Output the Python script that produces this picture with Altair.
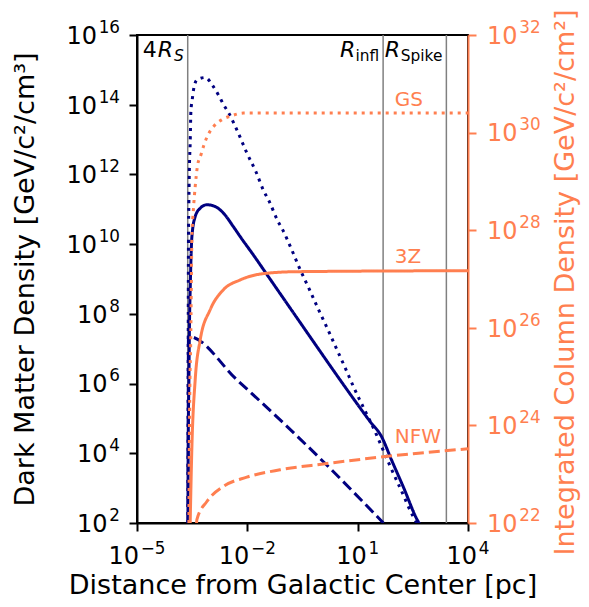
import altair as alt
import pandas as pd

NAVY = "#000080"
CORAL = "#ff7f50"
GREY = "#808080"
FONT = "DejaVu Sans"

# ---------------- data (log10 values) ----------------
# vertical reference lines (pc)
vline_logr = [-3.621, 1.692, 3.412]

# dark matter density [GeV/c^2/cm^3]  (left axis)
gs_rho_logr = [-3.615, -3.600, -3.589, -3.573, -3.554, -3.535, -3.499, -3.464, -3.372, -3.147,
               -2.938, -2.786, -2.650, -2.495, -2.243, -2.015, -1.763, -1.564, -1.402, -1.174,
               -1.038, -0.794, -0.568, -0.316, -0.072, 0.172, 0.408, 0.653, 0.878, 1.513,
               1.828, 2.191, 2.506, 2.606]
gs_rho_logv = [2.0, 10.22, 11.27, 12.32, 12.90, 13.80, 14.14, 14.42, 14.71, 14.78,
               14.54, 14.28, 14.01, 13.74, 13.18, 12.62, 12.07, 11.55, 11.22, 10.67,
               10.41, 9.84, 9.28, 8.71, 8.14, 7.59, 7.04, 6.47, 5.93, 4.53,
               3.76, 2.92, 2.19, 2.0]

z3_rho_logr = [-3.615, -3.608, -3.589, -3.573, -3.554, -3.507, -3.418, -3.282, -3.100, -2.875,
               -2.650, -2.379, -2.197, -1.836, -1.429, -1.022, -0.615, -0.208, 0.200, 0.680,
               1.331, 1.648, 1.920, 2.235, 2.642, 2.70]
z3_rho_logv = [2.0, 4.20, 6.11, 7.73, 8.69, 10.22, 10.79, 11.03, 11.13, 11.08,
               10.89, 10.50, 10.22, 9.69, 9.07, 8.45, 7.83, 7.21, 6.59, 5.87,
               4.92, 4.48, 3.81, 3.05, 2.05, 1.95]

nfw_rho_logr = [-3.612, -3.600, -2.286, 0.200, 1.700]
nfw_rho_logv = [2.0, 7.35, 6.11, 3.62, 2.0]

# integrated column density [GeV/c^2/cm^2]  (right axis)
gs_col_logr = [-3.589, -3.567, -3.540, -3.507, -3.464, -3.418, -3.355, -3.263, -3.174, -3.057,
               -2.902, -2.677, -2.406, -2.107, 4.0]
gs_col_logv = [22.0, 24.53, 25.69, 27.84, 28.45, 28.89, 29.32, 29.54, 29.76, 29.97,
               30.14, 30.27, 30.35, 30.40, 30.40]

z3_col_logr = [-3.554, -3.507, -3.418, -3.282, -3.011, -2.650, -2.197, -1.564, -0.658, 4.0]
z3_col_logv = [22.0, 23.57, 24.93, 25.75, 26.37, 26.78, 26.98, 27.11, 27.15, 27.17]

nfw_col_logr = [-3.380, -3.372, -3.100, -2.650, -2.015, -1.111, 0.064, 1.149, 2.506, 4.0]
nfw_col_logv = [22.0, 22.07, 22.44, 22.75, 22.94, 23.09, 23.21, 23.31, 23.42, 23.52]

# curve labels (right-axis coordinates)
curve_labels = ["GS", "3Z", "NFW"]
curve_label_logr = [2.01, 2.01, 2.01]
curve_label_logv = [30.55, 27.33, 23.64]

# tick exponents (labels are 10^e)
x_ticks = [-5, -2, 1, 4]
yl_ticks = [2, 4, 6, 8, 10, 12, 14, 16]
yr_ticks = [22, 24, 26, 28, 30, 32]

# ---------------- build tables ----------------
def frame(name, logr, logv):
    return pd.DataFrame({
        "r": [10 ** a for a in logr],
        "v": [10 ** b for b in logv],
        "series": name,
        "order": list(range(len(logr))),
    })

dens = pd.concat([frame("GS", gs_rho_logr, gs_rho_logv),
                  frame("3Z", z3_rho_logr, z3_rho_logv),
                  frame("NFW", nfw_rho_logr, nfw_rho_logv)], ignore_index=True)
cold = pd.concat([frame("GS", gs_col_logr, gs_col_logv),
                  frame("3Z", z3_col_logr, z3_col_logv),
                  frame("NFW", nfw_col_logr, nfw_col_logv)], ignore_index=True)
labels_df = pd.DataFrame({"r": [10 ** a for a in curve_label_logr],
                          "v": [10 ** b for b in curve_label_logv],
                          "text": curve_labels})
vlines_df = pd.DataFrame({"r": [10 ** a for a in vline_logr]})

TICK_FS = 24
SUP_FS = TICK_FS * 0.7
TITLE_FS = 27
W, H = 331, 488

X = alt.X("r:Q",
          scale=alt.Scale(type="log", domain=[1e-5, 1e4], nice=False),
          axis=alt.Axis(values=[10.0 ** e for e in x_ticks], labels=False,
                        title="Distance from Galactic Center [pc]", grid=False,
                        titleX=W / 2, titleY=70, titleBaseline="alphabetic",
                        titleAlign="center"))

YL = alt.Y("v:Q",
           scale=alt.Scale(type="log", domain=[1e2, 1e16], nice=False),
           axis=alt.Axis(values=[10.0 ** e for e in yl_ticks], labels=False,
                         title="Dark Matter Density [GeV/c²/cm³]", grid=False,
                         titleX=-104, titleY=H / 2, titleAngle=270,
                         titleBaseline="alphabetic", titleAlign="center"))

YR = alt.Y("v:Q",
           scale=alt.Scale(type="log", domain=[1e22, 1e32], nice=False),
           axis=alt.Axis(orient="right", values=[10.0 ** e for e in yr_ticks], labels=False,
                         title="Integrated Column Density [GeV/c²/cm²]", grid=False,
                         domainColor=CORAL, tickColor=CORAL, titleColor=CORAL,
                         titleX=105, titleY=H / 2 + 3, titleAngle=270,
                         titleBaseline="alphabetic", titleAlign="center"))

# ---------------- tick labels as "10" + raised exponent ----------------
def exp_str(e):
    return str(e).replace("-", "\u2212")

def sup_width(s):
    return sum(0.838 if c == "\u2212" else 0.636 for c in s) * SUP_FS

BASE_W = 2 * 0.636 * TICK_FS
GAP = 1.7

def grouped(exps):
    groups = {}
    for e in exps:
        groups.setdefault(round(sup_width(exp_str(e)), 2), []).append(e)
    return groups

def tick_text(df, enc, align, dx, dy, fs, text_field, color):
    return alt.Chart(df).mark_text(align=align, baseline="alphabetic", dx=dx, dy=dy,
                                   font=FONT, fontSize=fs, color=color).encode(
        text=f"{text_field}:N", **enc)

def tick_df(exps, field):
    return pd.DataFrame({field: [10.0 ** e for e in exps], "base": "10",
                         "sup": [exp_str(e) for e in exps]})

tick_layers_left = []
# left axis labels (right edge 17px left of the axis)
for ew, exps in grouped(yl_ticks).items():
    df = tick_df(exps, "v")
    tick_layers_left.append(tick_text(df, {"x": alt.value(-17), "y": YL}, "right", 0, -2.2,
                                      SUP_FS, "sup", "black"))
    tick_layers_left.append(tick_text(df, {"x": alt.value(-17 - ew - GAP), "y": YL}, "right",
                                      0, 8.8, TICK_FS, "base", "black"))
# bottom axis labels (centred on the tick)
for ew, exps in grouped(x_ticks).items():
    df = tick_df(exps, "r")
    total = BASE_W + GAP + ew
    tick_layers_left.append(tick_text(df, {"x": X, "y": alt.value(H + 41.3)}, "left",
                                      -total / 2, 0, TICK_FS, "base", "black"))
    tick_layers_left.append(tick_text(df, {"x": X, "y": alt.value(H + 31.3)}, "left",
                                      -total / 2 + BASE_W + GAP, 0, SUP_FS, "sup", "black"))
# right axis labels (left edge 19px right of the axis)
tick_layers_right = []
df_r = tick_df(yr_ticks, "v")
tick_layers_right.append(tick_text(df_r, {"x": alt.value(W + 19), "y": YR}, "left", 0, 8.8,
                                   TICK_FS, "base", CORAL))
tick_layers_right.append(tick_text(df_r, {"x": alt.value(W + 19 + BASE_W + GAP), "y": YR},
                                   "left", 0, -2.2, SUP_FS, "sup", CORAL))

# ---------------- curves ----------------
dash = alt.StrokeDash("series:N",
                      scale=alt.Scale(domain=["3Z", "GS", "NFW"],
                                      range=[[1, 0], [3, 5], [11, 5]]),
                      legend=None)

navy_lines = alt.Chart(dens).mark_line(color=NAVY, strokeWidth=3, clip=True,
                                       strokeCap="butt", interpolate="monotone").encode(
    x=X, y=YL, strokeDash=dash, detail="series:N", order="order:Q")

rules = alt.Chart(vlines_df).mark_rule(color=GREY, strokeWidth=1.5).encode(x=X)

# vertical-line annotations, built from pieces (text, italic, subscript)
CW = {'4': 0.636, 'R': 0.695, 'S': 0.635, 'i': 0.278, 'n': 0.634, 'f': 0.352,
      'l': 0.278, 'p': 0.635, 'k': 0.579, 'e': 0.615}
ANN_FS = 22
pieces = [
    [("4", False, False), ("R", True, False), ("S", True, True)],
    [("R", True, False), ("infl", False, True)],
    [("R", True, False), ("Spike", False, True)],
]
ann_layers = []
for lr, plist in zip(vline_logr, pieces):
    off = -4.0
    for txt, ital, sub in reversed(plist):
        fs = ANN_FS * 0.7 if sub else ANN_FS
        ann_layers.append(
            alt.Chart(pd.DataFrame({"r": [10 ** lr]})).mark_text(
                align="right", baseline="alphabetic", dx=off, dy=4 if sub else 0,
                font=FONT, fontSize=fs, fontStyle="italic" if ital else "normal",
                color="black").encode(x=X, y=alt.value(22), text=alt.value(txt)))
        off -= sum(CW[c] for c in txt) * fs + (1 if ital else 0)

left = alt.layer(rules, navy_lines, *ann_layers, *tick_layers_left)

coral_lines = alt.Chart(cold).mark_line(color=CORAL, strokeWidth=3, clip=True,
                                        strokeCap="butt", interpolate="monotone").encode(
    x=X, y=YR, strokeDash=dash, detail="series:N", order="order:Q")
coral_text = alt.Chart(labels_df).mark_text(
    align="left", baseline="alphabetic", font=FONT, fontSize=20, color=CORAL).encode(
    x=X, y=YR, text="text:N")
right = alt.layer(coral_lines, coral_text, *tick_layers_right)

chart = alt.layer(left, right).resolve_scale(y="independent").properties(
    width=W, height=H,
    autosize=alt.AutoSizeParams(type="none"),
    padding={"left": 129, "top": 27, "right": 113, "bottom": 76},
).configure_view(stroke="black", strokeWidth=2).configure_axis(
    titleFont=FONT, titleFontSize=TITLE_FS, titleFontWeight="normal",
    titleColor="black", domainColor="black", tickColor="black",
    domainWidth=2, tickWidth=2, tickSize=8,
)

chart.save("out.html", embed_options={"renderer": "svg", "actions": False})
